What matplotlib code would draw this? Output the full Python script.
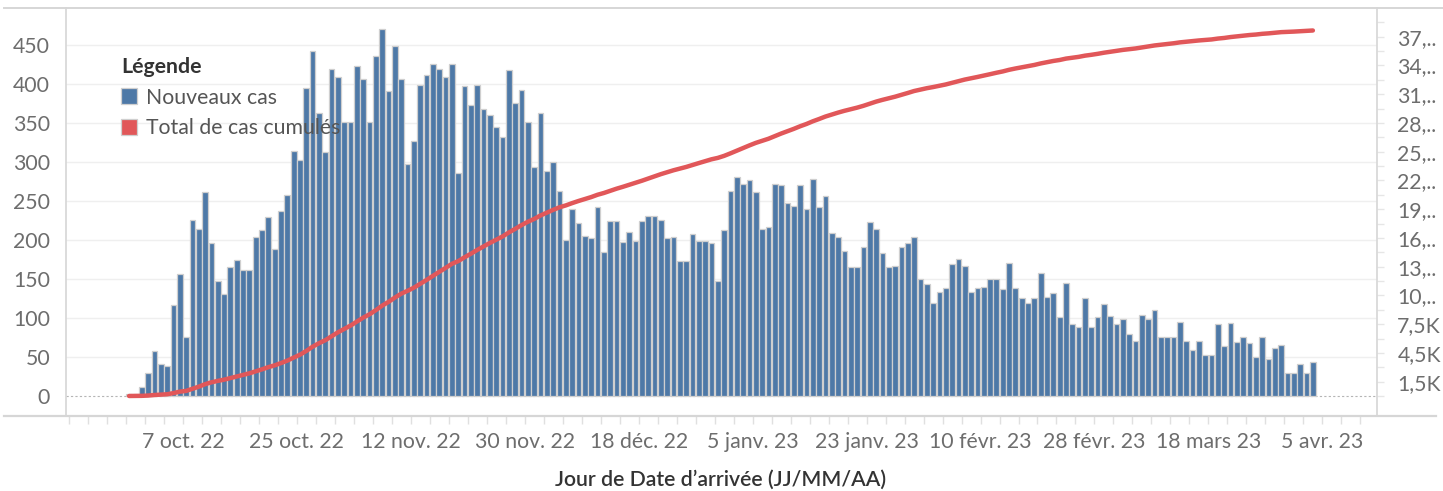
import numpy as np
import pandas as pd
import matplotlib
matplotlib.use("Agg")
import matplotlib.pyplot as plt
import matplotlib.dates as mdates
from matplotlib.patches import Patch
from matplotlib.lines import Line2D

# --- données ---
premier_jour = "2022-09-28"

nouveaux_cas = [
    3, 3, 12, 29, 58, 41, 38, 117, 156, 75,
    226, 214, 261, 196, 147, 130, 165, 174, 161, 161,
    204, 212, 229, 188, 237, 258, 314, 302, 395, 442,
    363, 312, 419, 409, 351, 351, 423, 406, 351, 435,
    470, 390, 448, 406, 297, 327, 398, 411, 425, 419,
    409, 425, 286, 397, 372, 398, 367, 360, 345, 332,
    418, 375, 392, 351, 293, 362, 288, 300, 263, 200,
    239, 221, 205, 202, 242, 184, 224, 224, 197, 210,
    198, 224, 231, 231, 226, 202, 204, 173, 173, 207,
    198, 198, 196, 147, 212, 263, 281, 272, 277, 261,
    214, 217, 272, 270, 247, 243, 270, 239, 278, 242,
    256, 209, 204, 186, 165, 165, 191, 223, 214, 183,
    165, 167, 191, 196, 204, 150, 144, 119, 133, 138,
    169, 175, 167, 133, 138, 140, 150, 150, 137, 170,
    138, 126, 119, 126, 157, 127, 132, 101, 145, 92,
    89, 126, 89, 101, 118, 103, 92, 99, 80, 71,
    104, 99, 110, 75, 75, 76, 95, 70, 59, 71,
    52, 53, 92, 64, 94, 69, 75, 68, 50, 75,
    48, 62, 65, 29, 29, 41, 30, 43,
]

tick_dates = ["2022-10-07", "2022-10-25", "2022-11-12", "2022-11-30",
              "2022-12-18", "2023-01-05", "2023-01-23", "2023-02-10",
              "2023-02-28", "2023-03-18", "2023-04-05"]
tick_labels = ["7 oct. 22", "25 oct. 22", "12 nov. 22", "30 nov. 22",
               "18 déc. 22", "5 janv. 23", "23 janv. 23", "10 févr. 23",
               "28 févr. 23", "18 mars 23", "5 avr. 23"]

left_ticks = [0, 50, 100, 150, 200, 250, 300, 350, 400, 450]
right_ticks = [1500, 4500, 7500, 10500, 13500, 16500, 19500,
               22500, 25500, 28500, 31500, 34500, 37500]
right_labels = ["1,5K", "4,5K", "7,5K", "10,..", "13,..", "16,..", "19,..",
                "22,..", "25,..", "28,..", "31,..", "34,..", "37,.."]

# --- style ---
plt.rcParams['font.family'] = ['Lato', 'DejaVu Sans']
BLEU = "#4e79a7"
ROUGE = "#e15759"
GRIS_TXT = "#6d6d6d"
GRIS_LIGNE = "#d6d6d6"
FS = 15.3

W, H = 1443, 491
fig = plt.figure(figsize=(W / 100, H / 100), dpi=100)

x0, x1, ytop, ybot = 65.5, 1376.5, 8, 415.7
ax = fig.add_axes([x0 / W, 1 - ybot / H, (x1 - x0) / W, (ybot - ytop) / H])

jours = pd.date_range(premier_jour, periods=len(nouveaux_cas), freq="D")
centres = mdates.date2num(jours) + 0.5
total_cumule = np.cumsum(nouveaux_cas)

ax.bar(centres, nouveaux_cas, width=0.9, color=BLEU, edgecolor="#cfcfcf",
       linewidth=0.9, zorder=3)
ax.axhline(0, color="#b5b5b5", lw=0.8, ls=(0, (2, 2)), zorder=2)

ax.set_ylim(-25.2, 496.8)
ax.set_yticks(left_ticks)
ax.set_yticklabels([str(v) for v in left_ticks])
for v in left_ticks[1:]:
    ax.axhline(v, color="#efefef", lw=1.0, zorder=1)

xmin = mdates.date2num(pd.Timestamp("2022-09-18")) + 0.46
xmax = mdates.date2num(pd.Timestamp("2023-04-13")) + 0.55
ax.set_xlim(xmin, xmax)
ax.set_xticks(mdates.date2num(pd.to_datetime(tick_dates)))
ax.set_xticklabels(tick_labels)
minor = pd.date_range("2022-09-19", "2023-04-13", freq="3D")
ax.set_xticks(mdates.date2num(minor), minor=True)

ax.tick_params(axis="y", length=0, pad=11, labelsize=FS, labelcolor=GRIS_TXT)
ax.tick_params(axis="x", which="both", length=6, width=1, color="#e0e0e0",
               pad=6, labelsize=FS, labelcolor=GRIS_TXT)

for s in ["top", "bottom", "right"]:
    ax.spines[s].set_visible(False)
ax.spines["left"].set_color(GRIS_LIGNE)
ax.spines["left"].set_linewidth(1.2)

# axe de droite : total cumulé
ax2 = ax.twinx()
ax2.plot(centres, total_cumule, color=ROUGE, lw=3.2, solid_capstyle="round",
         zorder=4)
ax2.set_ylim(-25.2 * 81.5, 496.8 * 81.5)
ax2.set_yticks(right_ticks)
ax2.set_yticklabels(right_labels)
ax2.set_yticks(np.arange(0, 40000, 3000), minor=True)
ax2.tick_params(axis="y", which="both", length=5, width=1, color="#e6e6e6",
                pad=10, labelsize=FS, labelcolor=GRIS_TXT)
for s in ["top", "bottom", "left"]:
    ax2.spines[s].set_visible(False)
ax2.spines["right"].set_color(GRIS_LIGNE)
ax2.spines["right"].set_linewidth(1.2)

# lignes de cadre qui débordent
fig.add_artist(Line2D([4 / W, 1], [1 - ytop / H] * 2, color=GRIS_LIGNE, lw=1.4))
fig.add_artist(Line2D([4 / W, 1436 / W], [1 - ybot / H] * 2, color=GRIS_LIGNE, lw=1.6))

# légende
handles = [Patch(facecolor=BLEU, edgecolor="#cfcfcf", lw=0.9),
           Patch(facecolor=ROUGE, edgecolor="#cfcfcf", lw=0.9)]
leg = ax.legend(handles, ["Nouveaux cas", "Total de cas cumulés"],
                title="Légende", loc="upper left",
                bbox_to_anchor=((121 - x0) / (x1 - x0), (ybot - 57) / (ybot - ytop)),
                frameon=False, fontsize=FS, title_fontsize=FS,
                handlelength=0.75, handleheight=0.75, handletextpad=0.45,
                labelspacing=0.5, borderpad=0, borderaxespad=0,
                alignment="left")
leg.get_title().set_fontweight("bold")
leg.get_title().set_color("#333333")
for t in leg.get_texts():
    t.set_color("#555555")
leg.set_zorder(10)

fig.text((x0 + x1) / 2 / W, 1 - 480 / H, "Jour de Date d’arrivée (JJ/MM/AA)",
         ha="center", va="center", fontsize=FS, fontweight="semibold",
         color="#333333")

fig.savefig("out.png", dpi=100)
